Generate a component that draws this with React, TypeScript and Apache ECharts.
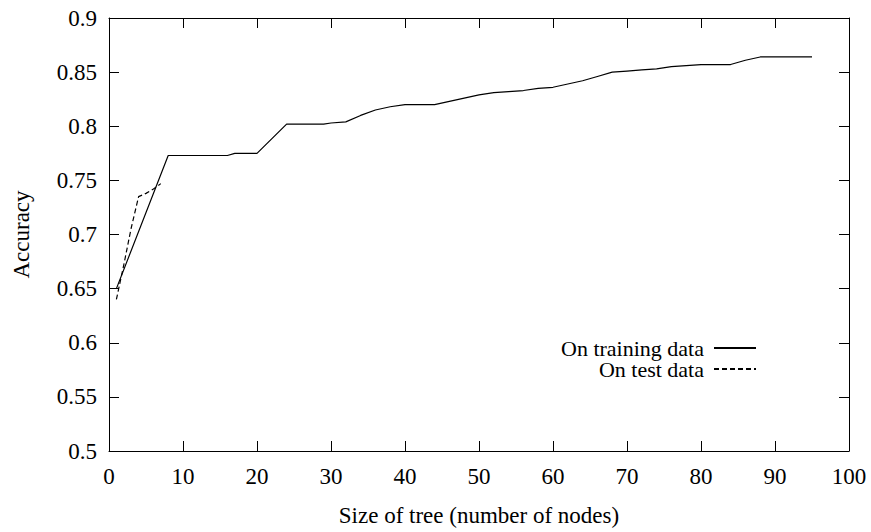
import React, { useEffect, useRef } from "react";
import * as echarts from "echarts";

const xTicks = [0, 100];
const yRange = [0.5, 0.9];

const trainingX = [1, 8, 16, 17, 20, 24, 29, 30, 32, 34, 36, 38, 40, 44, 46, 48, 50, 52, 54, 56, 58, 60, 62, 64, 66, 68, 70, 72, 74, 76, 78, 80, 84, 86, 88, 95];
const trainingY = [0.65, 0.773, 0.773, 0.775, 0.775, 0.802, 0.802, 0.803, 0.804, 0.81, 0.815, 0.818, 0.82, 0.82, 0.823, 0.826, 0.829, 0.831, 0.832, 0.833, 0.835, 0.836, 0.839, 0.842, 0.846, 0.85, 0.851, 0.852, 0.853, 0.855, 0.856, 0.857, 0.857, 0.861, 0.864, 0.864];

const testX = [1, 2, 3, 4, 5, 6, 7];
const testY = [0.64, 0.672, 0.706, 0.735, 0.738, 0.742, 0.747];

const FONT = "Liberation Serif";

export default function App() {
  const ref = useRef<HTMLDivElement>(null);
  useEffect(() => {
    if (!ref.current) return;
    const chart = echarts.init(ref.current, null, { renderer: "svg" });
    const axisLine = { show: true, onZero: false, lineStyle: { color: "#000", width: 1 } };
    const tick = { show: true, inside: true, length: 10, lineStyle: { color: "#000", width: 1 } };
    const label = { color: "#000", fontFamily: FONT, fontSize: 23 };
    const legendText = { color: "#000", fontFamily: FONT, fontSize: 22, lineHeight: 20, padding: [0, 5, 0, 0] };
    chart.setOption({
      animation: false,
      backgroundColor: "#fff",
      textStyle: { fontFamily: FONT },
      grid: { left: 109, right: 22, top: 18, bottom: 76, containLabel: false },
      xAxis: [
        {
          type: "value",
          min: xTicks[0],
          max: xTicks[1],
          interval: 10,
          position: "bottom",
          axisLine,
          axisTick: tick,
          axisLabel: { ...label, margin: 14 },
          splitLine: { show: false },
          name: "Size of tree (number of nodes)",
          nameLocation: "middle",
          nameGap: 53,
          nameTextStyle: { color: "#000", fontFamily: FONT, fontSize: 23 },
        },
        {
          type: "value",
          min: xTicks[0],
          max: xTicks[1],
          interval: 10,
          position: "top",
          axisLine,
          axisTick: tick,
          axisLabel: { show: false },
          splitLine: { show: false },
        },
      ],
      yAxis: [
        {
          type: "value",
          min: yRange[0],
          max: yRange[1],
          interval: 0.05,
          position: "left",
          axisLine,
          axisTick: tick,
          axisLabel: { ...label, margin: 12 },
          splitLine: { show: false },
          name: "Accuracy",
          nameLocation: "middle",
          nameGap: 76,
          nameTextStyle: { color: "#000", fontFamily: FONT, fontSize: 23 },
        },
        {
          type: "value",
          min: yRange[0],
          max: yRange[1],
          interval: 0.05,
          position: "right",
          axisLine,
          axisTick: tick,
          axisLabel: { show: false },
          splitLine: { show: false },
        },
      ],
      legend: [
        {
          data: ["On training data"],
          right: 114,
          top: 337,
          align: "right",
          padding: 0,
          itemWidth: 42,
          itemHeight: 10,
          itemStyle: { opacity: 0 },
          textStyle: legendText,
          selectedMode: false,
        },
        {
          data: ["On test data"],
          right: 114,
          top: 358,
          align: "right",
          padding: 0,
          itemWidth: 42,
          itemHeight: 10,
          itemStyle: { opacity: 0 },
          textStyle: legendText,
          selectedMode: false,
        },
      ],
      series: [
        {
          name: "On training data",
          type: "line",
          data: trainingX.map((x, i) => [x, trainingY[i]]),
          symbol: "none",
          lineStyle: { color: "#000", width: 1.2 },
          itemStyle: { color: "#000" },
        },
        {
          name: "On test data",
          type: "line",
          data: testX.map((x, i) => [x, testY[i]]),
          symbol: "none",
          lineStyle: { color: "#000", width: 1.2, type: [5, 3] },
          itemStyle: { color: "#000" },
        },
      ],
    });
    return () => chart.dispose();
  }, []);
  return (
    <div
      ref={ref}
      style={{ position: "fixed", left: 0, top: 0, width: 871, height: 532, background: "#fff" }}
    />
  );
}
